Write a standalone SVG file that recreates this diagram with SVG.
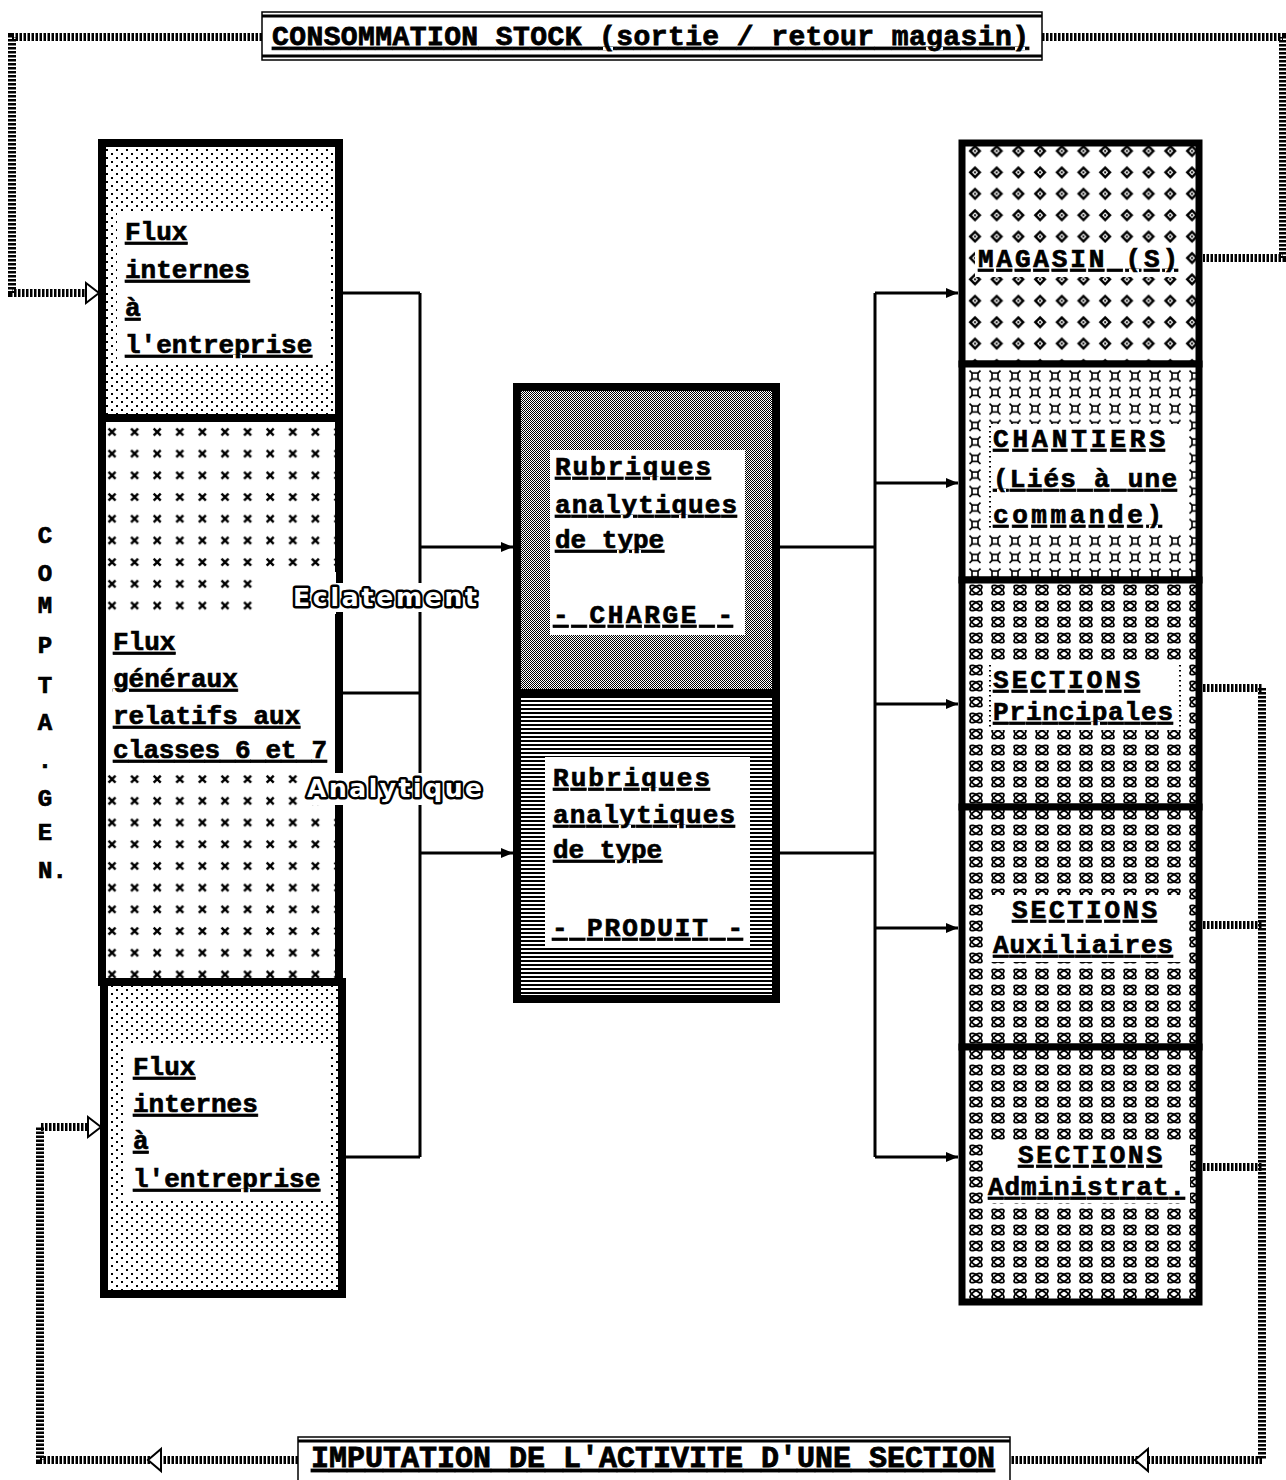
<svg xmlns="http://www.w3.org/2000/svg" width="1286" height="1480" viewBox="0 0 1286 1480">
<style>
.t{font-family:"Liberation Mono","DejaVu Sans Mono",monospace;font-weight:bold;font-size:26px;text-decoration:underline;fill:#000;stroke:#000;stroke-width:0.7}
.ttl{font-family:"Liberation Mono","DejaVu Sans Mono",monospace;font-weight:bold;text-decoration:underline;fill:#000;stroke:#000;stroke-width:0.8}
.v{font-family:"Liberation Mono","DejaVu Sans Mono",monospace;font-weight:bold;font-size:24px;fill:#000;stroke:#000;stroke-width:0.7}
.lab{font-family:"DejaVu Sans",sans-serif;font-weight:bold;font-size:25px;fill:#fff;stroke:#000;stroke-width:5;stroke-linejoin:round;paint-order:stroke}
.box{stroke:#000;stroke-width:8}
.rbox{stroke:#000;stroke-width:7}
.w{fill:#fff}
.c{stroke:#000;stroke-width:3;fill:none}
.h{stroke:#000;stroke-width:8;stroke-dasharray:2.5 1.5;fill:none}
.ha{fill:#fff;stroke:#000;stroke-width:2}
.dl{stroke:#000;stroke-width:2;stroke-dasharray:1.5 3.5;fill:none}
</style>
<defs>
<pattern id="pDots" x="0" y="0" width="10" height="8" patternUnits="userSpaceOnUse"><rect width="10" height="8" fill="#fff"/><rect x="1" y="1" width="2" height="2" fill="#000"/><rect x="6" y="5" width="2" height="2" fill="#000"/></pattern>
<pattern id="pX" x="101" y="421" width="22.6" height="21.7" patternUnits="userSpaceOnUse"><rect width="23" height="22" fill="#fff"/><path d="M7.5,7.5 l7,7 M14.5,7.5 l-7,7" stroke="#000" stroke-width="2.4"/></pattern>
<pattern id="pChk" x="0" y="0" width="2" height="2" patternUnits="userSpaceOnUse"><rect width="2" height="2" fill="#fff"/><rect width="1" height="1" fill="#000"/><rect x="1" y="1" width="1" height="1" fill="#000"/></pattern>
<pattern id="pStr" x="0" y="0" width="4" height="4" patternUnits="userSpaceOnUse"><rect width="4" height="4" fill="#fff"/><rect width="4" height="2" fill="#000"/></pattern>
<pattern id="pDia" x="964" y="140" width="21.7" height="21.4" patternUnits="userSpaceOnUse"><rect width="22" height="22" fill="#fff"/><polygon points="11,4.5 17.5,11 11,17.5 4.5,11" fill="#000"/><polygon points="11,8 14,11 11,14 8,11" fill="#fff"/><rect x="10" y="10" width="2" height="2" fill="#000"/></pattern>
<pattern id="pStar" x="965" y="368" width="20" height="16.5" patternUnits="userSpaceOnUse"><rect width="20" height="17" fill="#fff"/><rect x="7" y="5" width="6" height="6" fill="none" stroke="#000" stroke-width="1.6"/><path d="M4.5,2.5 l2.5,2.5 M15.5,2.5 l-2.5,2.5 M4.5,13.5 l2.5,-2.5 M15.5,13.5 l-2.5,-2.5" stroke="#000" stroke-width="1.6"/></pattern>
<pattern id="pSec" x="965" y="582" width="22" height="16" patternUnits="userSpaceOnUse"><rect width="22" height="16" fill="#fff"/><ellipse cx="11" cy="8" rx="7" ry="3" transform="rotate(35 11 8)" fill="none" stroke="#000" stroke-width="1.8"/><ellipse cx="11" cy="8" rx="7" ry="3" transform="rotate(-35 11 8)" fill="none" stroke="#000" stroke-width="1.8"/></pattern>
<marker id="arr" markerWidth="12" markerHeight="12" refX="12" refY="6" orient="auto" markerUnits="userSpaceOnUse"><path d="M0,1 L12,6 L0,11 z" fill="#000"/></marker>
</defs>
<rect width="1286" height="1480" fill="#fff"/>

<g id="title-top">
<rect x="262" y="12" width="780" height="48" fill="#fff" stroke="#000" stroke-width="1.5"/>
<path d="M262,16 H1042 M262,56 H1042" stroke="#000" stroke-width="3"/>
<text class="ttl" x="272" y="45" font-size="28" textLength="757" lengthAdjust="spacing">CONSOMMATION STOCK (sortie / retour magasin)</text>
</g>

<g id="title-bottom">
<rect x="298" y="1437" width="712" height="60" fill="#fff" stroke="#000" stroke-width="1.5"/>
<path d="M298,1441 H1010" stroke="#000" stroke-width="3"/>
<text class="ttl" x="311" y="1467" font-size="30" textLength="684" lengthAdjust="spacing">IMPUTATION DE L'ACTIVITE D'UNE SECTION</text>
</g>

<g id="compta-gen">
<text class="v" x="45" y="543" text-anchor="middle">C</text>
<text class="v" x="45" y="581" text-anchor="middle">O</text>
<text class="v" x="45" y="613" text-anchor="middle">M</text>
<text class="v" x="45" y="653" text-anchor="middle">P</text>
<text class="v" x="45" y="693" text-anchor="middle">T</text>
<text class="v" x="45" y="730" text-anchor="middle">A</text>
<text class="v" x="45" y="768" text-anchor="middle">.</text>
<text class="v" x="45" y="806" text-anchor="middle">G</text>
<text class="v" x="45" y="840" text-anchor="middle">E</text>
<text class="v" x="38" y="878">N.</text>
</g>

<g id="flux-internes-haut">
<rect class="box" x="102" y="143" width="237" height="275" fill="url(#pDots)"/>
<rect class="w" x="117" y="213" width="213" height="150"/>
<text class="t" x="125" y="240">Flux</text>
<text class="t" x="125" y="278">internes</text>
<text class="t" x="125" y="316">à</text>
<text class="t" x="125" y="353">l'entreprise</text>
</g>

<g id="flux-generaux">
<rect class="box" x="102" y="418" width="237" height="564" fill="url(#pX)"/>
<rect class="w" x="107" y="612" width="228" height="152"/>
<rect class="w" x="262" y="572" width="74" height="42"/>
<text class="t" x="113" y="650">Flux</text>
<text class="t" x="113" y="687">généraux</text>
<text class="t" x="113" y="724">relatifs aux</text>
<text class="t" x="113" y="758" textLength="214" lengthAdjust="spacing">classes 6 et 7</text>
</g>

<g id="flux-internes-bas">
<rect class="box" x="104" y="982" width="238" height="312" fill="url(#pDots)"/>
<rect class="w" x="126" y="1045" width="205" height="155"/>
<text class="t" x="133" y="1075">Flux</text>
<text class="t" x="133" y="1112">internes</text>
<text class="t" x="133" y="1149">à</text>
<text class="t" x="133" y="1187">l'entreprise</text>
</g>

<g id="charge">
<rect class="box" x="517" y="387" width="259" height="306" fill="url(#pChk)"/>
<rect class="w" x="550" y="450" width="195" height="185"/>
<text class="t" x="555" y="475" textLength="156" lengthAdjust="spacing">Rubriques</text>
<text class="t" x="555" y="513" textLength="182" lengthAdjust="spacing">analytiques</text>
<text class="t" x="555" y="548">de type</text>
<text class="t" x="553" y="623" textLength="180" lengthAdjust="spacing">- CHARGE -</text>
</g>

<g id="produit">
<rect class="box" x="517" y="693" width="259" height="306" fill="url(#pStr)"/>
<rect class="w" x="545" y="757" width="205" height="190"/>
<text class="t" x="553" y="786" textLength="157" lengthAdjust="spacing">Rubriques</text>
<text class="t" x="553" y="823" textLength="182" lengthAdjust="spacing">analytiques</text>
<text class="t" x="553" y="858">de type</text>
<text class="t" x="552" y="936" textLength="191" lengthAdjust="spacing">- PRODUIT -</text>
</g>

<g id="magasin">
<rect class="rbox" x="962" y="143" width="237" height="221" fill="url(#pDia)"/>
<rect class="w" x="975" y="243" width="210" height="34"/>
<text class="t" x="978" y="267" textLength="200" lengthAdjust="spacing">MAGASIN (S)</text>
</g>

<g id="chantiers">
<rect class="rbox" x="962" y="364" width="237" height="216" fill="url(#pStar)"/>
<rect class="w" x="988" y="424" width="194" height="108"/>
<path class="dl" d="M990,426 V530"/>
<text class="t" x="993" y="447" textLength="172" lengthAdjust="spacing">CHANTIERS</text>
<text class="t" x="993" y="487" textLength="184" lengthAdjust="spacing">(Liés à une</text>
<text class="t" x="993" y="523" textLength="169" lengthAdjust="spacing">commande)</text>
</g>

<g id="sections-principales">
<rect class="rbox" x="962" y="580" width="237" height="227" fill="url(#pSec)"/>
<rect class="w" x="988" y="663" width="194" height="67"/>
<path class="dl" d="M990,665 V728 M1180,665 V728"/>
<text class="t" x="993" y="688" textLength="147" lengthAdjust="spacing">SECTIONS</text>
<text class="t" x="993" y="720" textLength="180" lengthAdjust="spacing">Principales</text>
</g>

<g id="sections-auxiliaires">
<rect class="rbox" x="962" y="807" width="237" height="240" fill="url(#pSec)"/>
<rect class="w" x="988" y="895" width="194" height="67"/>
<text class="t" x="1012" y="918" textLength="145" lengthAdjust="spacing">SECTIONS</text>
<text class="t" x="993" y="953" textLength="180" lengthAdjust="spacing">Auxiliaires</text>
</g>

<g id="sections-administrat">
<rect class="rbox" x="962" y="1047" width="237" height="255" fill="url(#pSec)"/>
<rect class="w" x="984" y="1140" width="206" height="63"/>
<text class="t" x="1018" y="1163" textLength="144" lengthAdjust="spacing">SECTIONS</text>
<text class="t" x="988" y="1195" textLength="197" lengthAdjust="spacing">Administrat.</text>
</g>

<g id="connectors">
<path class="c" d="M343,293 H420 M343,693 H420 M346,1157 H420 M420,293 V1157"/>
<path class="c" d="M420,547 H513" marker-end="url(#arr)"/>
<path class="c" d="M420,853 H513" marker-end="url(#arr)"/>
<path class="c" d="M780,547 H875 M780,853 H875 M875,293 V1157"/>
<path class="c" d="M875,293 H958" marker-end="url(#arr)"/>
<path class="c" d="M875,483 H958" marker-end="url(#arr)"/>
<path class="c" d="M875,704 H958" marker-end="url(#arr)"/>
<path class="c" d="M875,928 H958" marker-end="url(#arr)"/>
<path class="c" d="M875,1157 H958" marker-end="url(#arr)"/>
<path class="h" d="M262,37 H12 V293 H86"/>
<polygon class="ha" points="86,283 99,293 86,303"/>
<path class="h" d="M1042,37 H1283 V258 H1203"/>
<path class="h" d="M1203,688 H1262 M1203,925 H1262 M1203,1167 H1262 M1262,688 V1460 H1010"/>
<path class="h" d="M298,1460 H40 V1127 H88"/>
<polygon class="ha" points="88,1117 101,1127 88,1137"/>
<polygon class="ha" points="1135,1460 1148,1449 1148,1471"/>
<polygon class="ha" points="148,1460 161,1449 161,1471"/>
<g id="label-eclatement">
<rect class="w" x="288" y="583" width="194" height="29"/>
<text class="lab" x="293" y="606" textLength="184" lengthAdjust="spacing">Eclatement</text>
</g>
<g id="label-analytique">
<rect class="w" x="302" y="773" width="185" height="32"/>
<text class="lab" x="307" y="797" textLength="175" lengthAdjust="spacing">Analytique</text>
</g>
</g>
</svg>
